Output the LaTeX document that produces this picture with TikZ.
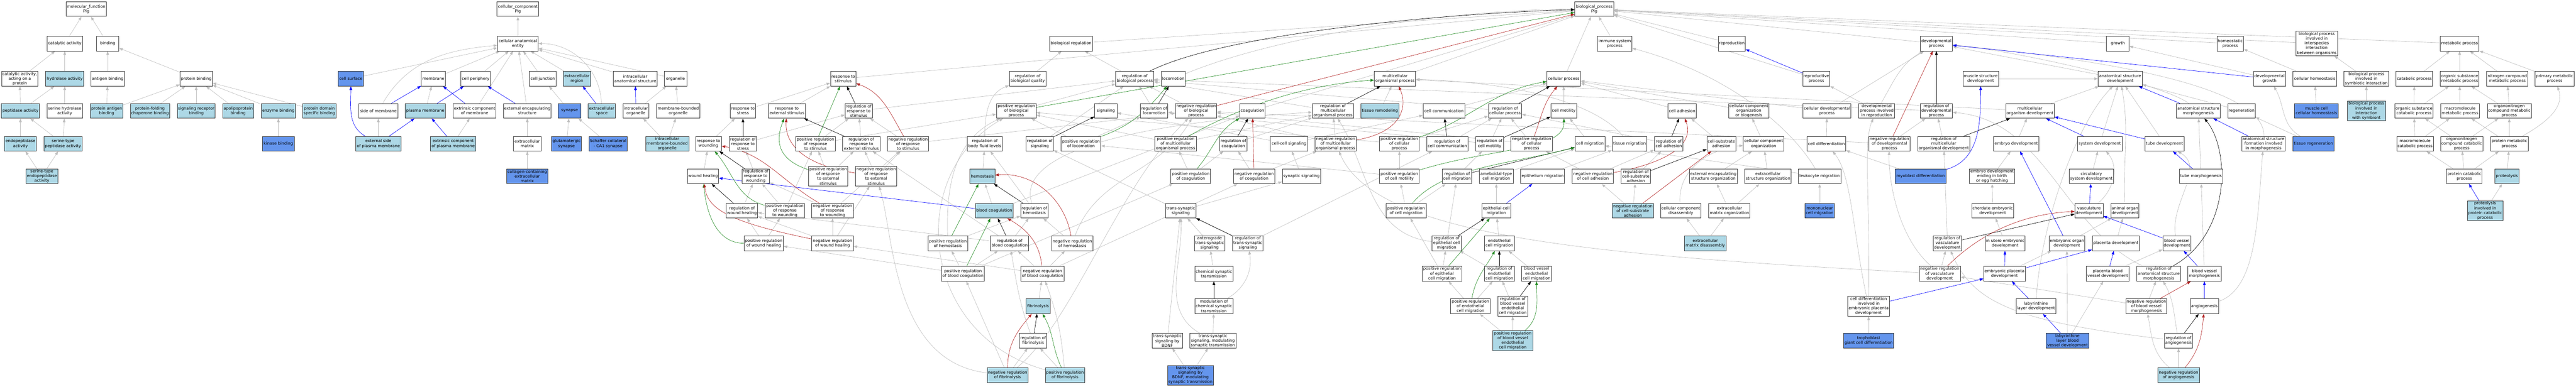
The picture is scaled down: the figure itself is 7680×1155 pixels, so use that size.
\documentclass[tikz,border=0pt]{standalone}
\usepackage{fontspec}
\setmainfont{DejaVu Sans}
\usetikzlibrary{arrows.meta,backgrounds}
\definecolor{lbc}{HTML}{ADD8E6}
\definecolor{cbc}{HTML}{6495ED}
\definecolor{cGrey}{RGB}{190,190,190}
\definecolor{cBlue}{RGB}{0,0,255}
\definecolor{cGreen}{RGB}{34,139,34}
\definecolor{cRed}{RGB}{178,34,34}
\definecolor{cBorder}{RGB}{55,55,55}
\newcommand\GOn[6]{\node[gobox,#5,minimum width=#4pt] (#1) at (#2,-#3) {#6};}
\begin{document}
\begin{tikzpicture}[x=1pt,y=1pt,
 gobox/.style={draw=cBorder,line width=1.3pt,inner xsep=2pt,inner ysep=1pt,align=center,minimum height=44pt,font=\fontsize{12}{14}\selectfont,text=black},
 wt/.style={fill=white}, lbx/.style={fill=lbc}, cbx/.style={fill=cbc},
 hf/.style={minimum height=59pt}, hv/.style={minimum height=73pt},
 ebase/.style={line width=1pt,-{Triangle[length=11pt,width=8pt]}},
 isa/.style={ebase,draw=cGrey},
 partof/.style={ebase,draw=cBlue},
 regl/.style={ebase,draw=black},
 posr/.style={ebase,draw=cGreen},
 negr/.style={ebase,draw=cRed}]
\useasboundingbox (0,0) rectangle (7680,-1155);
% ---------------- molecular function
\GOn{mf}{257}{27}{121}{wt}{molecular\_function\\Plg}
\GOn{cat}{193}{130}{106}{wt}{catalytic activity}
\GOn{bind}{321}{130}{67}{wt}{binding}
\GOn{catp}{59}{235}{109}{wt}{catalytic activity,\\acting on a\\protein}
\GOn{hyd}{193}{235}{113}{lbx}{hydrolase activity}
\GOn{agb}{321}{235}{99}{wt}{antigen binding}
\GOn{pb}{585}{235}{96}{wt}{protein binding}
\GOn{pep}{61}{331}{114}{lbx}{peptidase activity}
\GOn{shyd}{193}{331}{106}{wt}{serine hydrolase\\activity}
\GOn{pagb}{318}{331}{97}{lbx}{protein antigen\\binding}
\GOn{pfcb}{447}{331}{117}{lbx}{protein-folding\\chaperone binding}
\GOn{srb}{585}{331}{112}{lbx}{signaling receptor\\binding}
\GOn{apob}{710}{331}{93}{lbx}{apolipoprotein\\binding}
\GOn{enzb}{830}{331}{101}{lbx}{enzyme binding}
\GOn{pdsb}{952}{331}{99}{lbx}{protein domain\\specific binding}
\GOn{endo}{61}{429}{95}{lbx}{endopeptidase\\activity}
\GOn{stpa}{188}{429}{113}{lbx}{serine-type\\peptidase activity}
\GOn{kinb}{830}{429}{95}{cbx}{kinase binding}
\GOn{ste}{125}{526}{95}{lbx}{serine-type\\endopeptidase\\activity}
% ---------------- cellular component
\GOn{cc}{1544}{27}{124}{wt}{cellular\_component\\Plg}
\GOn{cae}{1544}{130}{121}{wt}{cellular anatomical\\entity}
\GOn{csurf}{1046}{235}{74}{cbx}{cell surface}
\GOn{mem}{1292}{235}{72}{wt}{membrane}
\GOn{cper}{1418}{235}{87}{wt}{cell periphery}
\GOn{cjun}{1618}{235}{79}{wt}{cell junction}
\GOn{ecr}{1720}{235}{81}{lbx}{extracellular\\region}
\GOn{ias}{1894}{235}{131}{wt}{intracellular\\anatomical structure}
\GOn{org}{2014}{235}{67}{wt}{organelle}
\GOn{som}{1128}{331}{116}{wt}{side of membrane}
\GOn{pm}{1268}{331}{119}{lbx}{plasma membrane}
\GOn{ecm}{1415}{331}{128}{wt}{extrinsic component\\of membrane}
\GOn{ees}{1572}{331}{142}{wt}{external encapsulating\\structure}
\GOn{syn}{1698}{331}{67}{cbx}{synapse}
\GOn{ecs}{1794}{331}{81}{lbx}{extracellular\\space}
\GOn{io}{1896}{331}{77}{wt}{intracellular\\organelle}
\GOn{mbo}{2022}{331}{128}{wt}{membrane-bounded\\organelle}
\GOn{espm}{1128}{429}{136}{lbx}{external side\\of plasma membrane}
\GOn{ecpm}{1351}{429}{136}{lbx}{extrinsic component\\of plasma membrane}
\GOn{exm}{1572}{429}{82}{wt}{extracellular\\matrix}
\GOn{gsyn}{1689}{429}{89}{cbx}{glutamatergic\\synapse}
\GOn{scsyn}{1813}{429}{114}{cbx}{Schaffer collateral\\- CA1 synapse}
\GOn{imbo}{1989}{429}{129}{lbx}{intracellular\\membrane-bounded\\organelle}
\GOn{cecm}{1572}{526}{124}{cbx}{collagen-containing\\extracellular\\matrix}
% ---------------- biological process R0-R1
\GOn{bp}{4753}{27}{116}{wt}{biological\_process\\Plg}
\GOn{breg}{3193}{130}{128}{wt}{biological regulation}
\GOn{isp}{4814}{130}{103}{wt}{immune system\\process}
\GOn{repro}{5163}{130}{81}{wt}{reproduction}
\GOn{dev}{5773}{130}{96}{wt}{developmental\\process}
\GOn{growth}{6314}{130}{67}{wt}{growth}
\GOn{homeo}{6649}{130}{79}{wt}{homeostatic\\process}
\GOn{bpii}{6907}{130}{124}{wt,hv}{biological process\\involved in\\interspecies\\interaction\\between organisms}
\GOn{metab}{7333}{130}{116}{wt}{metabolic process}
% R2
\GOn{rstim}{2514}{235}{76}{wt}{response to\\stimulus}
\GOn{rbq}{3064}{235}{110}{wt}{regulation of\\biological quality}
\GOn{rbp}{3383}{235}{113}{wt}{regulation of\\biological process}
\GOn{loco}{3498}{235}{72}{wt}{locomotion}
\GOn{mop}{4159}{235}{123}{wt}{multicellular\\organismal process}
\GOn{cellp}{4662}{235}{100}{wt}{cellular process}
\GOn{reprop}{5415}{235}{81}{wt}{reproductive\\process}
\GOn{msd}{5905}{235}{106}{wt}{muscle structure\\development}
\GOn{asd}{6321}{235}{131}{wt}{anatomical structure\\development}
\GOn{devg}{6766}{235}{95}{wt}{developmental\\growth}
\GOn{chom}{6901}{235}{130}{wt}{cellular homeostasis}
\GOn{bpsym}{7055}{235}{133}{wt}{biological process\\involved in\\symbiotic interaction}
\GOn{catab}{7198}{235}{109}{wt}{catabolic process}
\GOn{osmp}{7333}{235}{116}{wt}{organic substance\\metabolic process}
\GOn{ncmp}{7475}{235}{122}{wt}{nitrogen compound\\metabolic process}
\GOn{pmp}{7616}{235}{116}{wt}{primary metabolic\\process}
% R3
\GOn{rstress}{2215}{331}{76}{wt}{response to\\stress}
\GOn{rext}{2346}{331}{111}{wt}{response to\\external stimulus}
\GOn{rrstim}{2560}{331}{81}{wt}{regulation of\\response to\\stimulus}
\GOn{prbp}{3030}{331}{118}{wt}{positive regulation\\of biological\\process}
\GOn{sig}{3297}{331}{67}{wt}{signaling}
\GOn{rloco}{3441}{331}{81}{wt}{regulation of\\locomotion}
\GOn{nrbp}{3566}{331}{123}{wt}{negative regulation\\of biological\\process}
\GOn{coag}{3734}{331}{76}{wt}{coagulation}
\GOn{rmop}{3974}{331}{123}{wt}{regulation of\\multicellular\\organismal process}
\GOn{tremod}{4114}{331}{113}{lbx}{tissue remodeling}
\GOn{ccom}{4305}{331}{124}{wt}{cell communication}
\GOn{rcp}{4487}{331}{99}{wt}{regulation of\\cellular process}
\GOn{cmot}{4662}{331}{77}{wt}{cell motility}
\GOn{cadh}{5015}{331}{84}{wt}{cell adhesion}
\GOn{ccob}{5214}{331}{120}{wt}{cellular component\\organization\\or biogenesis}
\GOn{cdp}{5447}{331}{143}{wt}{cellular developmental\\process}
\GOn{dpir}{5595}{331}{108}{wt}{developmental\\process involved\\in reproduction}
\GOn{rdp}{5773}{331}{96}{wt}{regulation of\\developmental\\process}
\GOn{mod}{6052}{331}{145}{wt}{multicellular\\organism development}
\GOn{asm}{6554}{331}{130}{wt}{anatomical structure\\morphogenesis}
\GOn{regen}{6683}{331}{82}{wt}{regeneration}
\GOn{mcch}{6906}{331}{131}{cbx}{muscle cell\\cellular homeostasis}
\GOn{bpis}{7055}{331}{113}{lbx,hf}{biological process\\involved in\\interaction\\with symbiont}
\GOn{oscp}{7197}{331}{114}{wt}{organic substance\\catabolic process}
\GOn{mmp}{7334}{331}{115}{wt}{macromolecule\\metabolic process}
\GOn{oncmp}{7481}{331}{130}{wt}{organonitrogen\\compound metabolic\\process}
% R4
\GOn{rwound}{2112}{429}{77}{wt}{response to\\wounding}
\GOn{rrstress}{2215}{429}{82}{wt}{regulation of\\response to\\stress}
\GOn{prrs}{2431}{429}{118}{wt}{positive regulation\\of response\\to stimulus}
\GOn{rrext}{2568}{429}{111}{wt}{regulation of\\response to\\external stimulus}
\GOn{nrrs}{2707}{429}{123}{wt}{negative regulation\\of response\\to stimulus}
\GOn{rbfl}{2936}{429}{104}{wt}{regulation of\\body fluid levels}
\GOn{rsig}{3100}{429}{81}{wt}{regulation of\\signaling}
\GOn{prloco}{3223}{429}{118}{wt}{positive regulation\\of locomotion}
\GOn{prmop}{3505}{429}{123}{wt}{positive regulation\\of multicellular\\organismal process}
\GOn{rcoag}{3677}{429}{81}{wt}{regulation of\\coagulation}
\GOn{ccsig}{3843}{429}{111}{wt}{cell-cell signaling}
\GOn{nrmop}{3982}{429}{123}{wt}{negative regulation\\of multicellular\\organismal process}
\GOn{prcp}{4172}{429}{118}{wt}{positive regulation\\of cellular\\process}
\GOn{rccom}{4315}{429}{123}{wt}{regulation of\\cell communication}
\GOn{rcmot}{4441}{429}{82}{wt}{regulation of\\cell motility}
\GOn{nrcp}{4566}{429}{124}{wt}{negative regulation\\of cellular\\process}
\GOn{cmig}{4740}{429}{89}{wt}{cell migration}
\GOn{tmig}{4858}{429}{103}{wt}{tissue migration}
\GOn{rcadh}{4975}{429}{85}{wt}{regulation of\\cell adhesion}
\GOn{csadh}{5132}{429}{86}{wt}{cell-substrate\\adhesion}
\GOn{cco}{5258}{429}{121}{wt}{cellular component\\organization}
\GOn{cdiff}{5445}{429}{116}{wt}{cell differentiation}
\GOn{nrdp}{5633}{429}{124}{wt}{negative regulation\\of developmental\\process}
\GOn{rmod}{5795}{429}{155}{wt}{regulation of\\multicellular\\organismal development}
\GOn{embd}{6011}{429}{135}{wt}{embryo development}
\GOn{sysd}{6260}{429}{134}{wt}{system development}
\GOn{tubed}{6453}{429}{116}{wt}{tube development}
\GOn{asfm}{6748}{429}{130}{wt}{anatomical structure\\formation involved\\in morphogenesis}
\GOn{treg}{6897}{429}{122}{cbx}{tissue regeneration}
\GOn{mcp}{7200}{429}{109}{wt}{macromolecule\\catabolic process}
\GOn{onccp}{7339}{429}{126}{wt}{organonitrogen\\compound catabolic\\process}
\GOn{protmp}{7481}{429}{112}{wt}{protein metabolic\\process}
% R5
\GOn{wheal}{2096}{526}{93}{wt}{wound healing}
\GOn{rrw}{2253}{526}{82}{wt}{regulation of\\response to\\wounding}
\GOn{prrext}{2469}{526}{118}{wt,hf}{positive regulation\\of response\\to external\\stimulus}
\GOn{nrrext}{2612}{526}{122}{wt,hf}{negative regulation\\of response\\to external\\stimulus}
\GOn{hemo}{2929}{526}{74}{lbx}{hemostasis}
\GOn{pcoag}{3550}{526}{118}{wt}{positive regulation\\of coagulation}
\GOn{ncoag}{3739}{526}{122}{wt}{negative regulation\\of coagulation}
\GOn{ssig}{3880}{526}{114}{wt}{synaptic signaling}
\GOn{prcmot}{4172}{526}{118}{wt}{positive regulation\\of cell motility}
\GOn{rcmig}{4344}{526}{88}{wt}{regulation of\\cell migration}
\GOn{amig}{4461}{526}{101}{wt}{ameboidal-type\\cell migration}
\GOn{epmig}{4599}{526}{131}{wt}{epithelium migration}
\GOn{nrcadh}{4749}{526}{123}{wt}{negative regulation\\of cell adhesion}
\GOn{rcsadh}{4877}{526}{87}{wt}{regulation of\\cell-substrate\\adhesion}
\GOn{eeso}{5108}{526}{143}{wt}{external encapsulating\\structure organization}
\GOn{eso}{5271}{526}{138}{wt}{extracellular\\structure organization}
\GOn{lmig}{5425}{526}{127}{wt}{leukocyte migration}
\GOn{myod}{5726}{526}{151}{cbx}{myoblast differentiation}
\GOn{edeb}{5939}{526}{135}{wt}{embryo development\\ending in birth\\or egg hatching}
\GOn{csd}{6235}{526}{133}{wt}{circulatory\\system development}
\GOn{tubem}{6562}{526}{129}{wt}{tube morphogenesis}
\GOn{pcp}{7347}{526}{106}{wt}{protein catabolic\\process}
\GOn{prot}{7474}{526}{71}{lbx}{proteolysis}
% R6
\GOn{rwh}{2212}{629}{94}{wt}{regulation of\\wound healing}
\GOn{prrw}{2340}{629}{118}{wt}{positive regulation\\of response\\to wounding}
\GOn{nrrw}{2482}{629}{123}{wt}{negative regulation\\of response\\to wounding}
\GOn{bcoag}{2964}{629}{113}{lbx}{blood coagulation}
\GOn{rhemo}{3084}{629}{82}{wt}{regulation of\\hemostasis}
\GOn{tss}{3520}{629}{91}{wt}{trans-synaptic\\signaling}
\GOn{prcmig}{4192}{629}{119}{wt}{positive regulation\\of cell migration}
\GOn{ecmig}{4461}{629}{87}{wt}{epithelial cell\\migration}
\GOn{nrcsadh}{4868}{629}{123}{lbx}{negative regulation\\of cell-substrate\\adhesion}
\GOn{ccd}{5011}{629}{121}{wt}{cellular component\\disassembly}
\GOn{ecmo}{5156}{629}{123}{wt}{extracellular\\matrix organization}
\GOn{mncm}{5425}{629}{89}{cbx}{mononuclear\\cell migration}
\GOn{ced}{5941}{629}{125}{wt}{chordate embryonic\\development}
\GOn{vascd}{6228}{629}{84}{wt}{vasculature\\development}
\GOn{aod}{6335}{629}{84}{wt}{animal organ\\development}
\GOn{pip}{7409}{629}{106}{lbx,hf}{proteolysis\\involved in\\protein catabolic\\process}
% R7
\GOn{prwh}{2277}{726}{117}{wt}{positive regulation\\of wound healing}
\GOn{nrwh}{2482}{726}{123}{wt}{negative regulation\\of wound healing}
\GOn{prhemo}{2826}{726}{118}{wt}{positive regulation\\of hemostasis}
\GOn{rbc}{3010}{726}{114}{wt}{regulation of\\blood coagulation}
\GOn{nrhemo}{3197}{726}{122}{wt}{negative regulation\\of hemostasis}
\GOn{ats}{3606}{726}{91}{wt}{anterograde\\trans-synaptic\\signaling}
\GOn{rtss}{3720}{726}{91}{wt}{regulation of\\trans-synaptic\\signaling}
\GOn{recm}{4313}{726}{87}{wt}{regulation of\\epithelial cell\\migration}
\GOn{endm}{4470}{726}{89}{wt}{endothelial\\cell migration}
\GOn{ecmd}{5084}{726}{124}{lbx}{extracellular\\matrix disassembly}
\GOn{rvd}{5806}{726}{85}{wt}{regulation of\\vasculature\\development}
\GOn{iued}{5978}{726}{119}{wt}{in utero embryonic\\development}
\GOn{eod}{6162}{726}{106}{wt}{embryonic organ\\development}
\GOn{plad}{6308}{726}{141}{wt}{placenta development}
\GOn{bvd}{6490}{726}{84}{wt}{blood vessel\\development}
% R8
\GOn{prbc}{2871}{817}{128}{wt}{positive regulation\\of blood coagulation}
\GOn{nrbc}{3108}{817}{128}{wt}{negative regulation\\of blood coagulation}
\GOn{cst}{3619}{817}{114}{wt}{chemical synaptic\\transmission}
\GOn{precm}{4299}{817}{118}{wt}{positive regulation\\of epithelial\\cell migration}
\GOn{rendm}{4470}{817}{89}{wt}{regulation of\\endothelial\\cell migration}
\GOn{bvecm}{4581}{817}{88}{wt}{blood vessel\\endothelial\\cell migration}
\GOn{nrvd}{5783}{817}{123}{wt}{negative regulation\\of vasculature\\development}
\GOn{epd}{5976}{817}{124}{wt}{embryonic placenta\\development}
\GOn{pbvd}{6284}{817}{127}{wt}{placenta blood\\vessel development}
\GOn{rasm}{6436}{817}{131}{wt}{regulation of\\anatomical structure\\morphogenesis}
\GOn{bvm}{6572}{817}{99}{wt}{blood vessel\\morphogenesis}
% R9
\GOn{fibr}{3095}{914}{72}{lbx}{fibrinolysis}
\GOn{mcst}{3619}{914}{114}{wt}{modulation of\\chemical synaptic\\transmission}
\GOn{prendm}{4384}{914}{118}{wt}{positive regulation\\of endothelial\\cell migration}
\GOn{rbvecm}{4510}{914}{89}{wt,hf}{regulation of\\blood vessel\\endothelial\\cell migration}
\GOn{cdiep}{5571}{914}{124}{wt,hf}{cell differentiation\\involved in\\embryonic placenta\\development}
\GOn{lld}{6070}{914}{119}{wt}{labyrinthine\\layer development}
\GOn{nrbvm}{6399}{914}{122}{wt}{negative regulation\\of blood vessel\\morphogenesis}
\GOn{angio}{6572}{914}{84}{wt}{angiogenesis}
% R10
\GOn{rfibr}{3080}{1017}{81}{wt}{regulation of\\fibrinolysis}
\GOn{tssb}{3480}{1017}{91}{wt}{trans-synaptic\\signaling by\\BDNF}
\GOn{tssm}{3616}{1017}{138}{wt}{trans-synaptic\\signaling, modulating\\synaptic transmission}
\GOn{prbvecm}{4510}{1017}{119}{lbx,hf}{positive regulation\\of blood vessel\\endothelial\\cell migration}
\GOn{tgcd}{5571}{1017}{150}{cbx}{trophoblast\\giant cell differentiation}
\GOn{llbvd}{6164}{1017}{128}{cbx}{labyrinthine\\layer blood\\vessel development}
\GOn{rangio}{6495}{1017}{84}{wt}{regulation of\\angiogenesis}
% R11
\GOn{nrfibr}{3004}{1120}{122}{lbx}{negative regulation\\of fibrinolysis}
\GOn{prfibr}{3175}{1120}{117}{lbx}{positive regulation\\of fibrinolysis}
\GOn{tssbm}{3549}{1120}{137}{cbx,hf}{trans-synaptic\\signaling by\\BDNF, modulating\\synaptic transmission}
\GOn{nrangio}{6495}{1120}{124}{lbx}{negative regulation\\of angiogenesis}
% ================= edges
\begin{scope}[on background layer]
\fill[white] (0,0) rectangle (7680,-1155);
\foreach \a/\b in {cat/mf,bind/mf,catp/cat,hyd/cat,agb/bind,pb/bind,pep/catp,pep/hyd,shyd/hyd,pagb/agb,pagb/pb,pfcb/pb,srb/pb,apob/pb,enzb/pb,pdsb/pb,kinb/enzb,endo/pep,stpa/pep,stpa/shyd,ste/endo,ste/stpa,
 cae/cc,csurf/cae,mem/cae,cper/cae,cjun/cae,ecr/cae,ias/cae,org/cae,pm/mem,ecm/cae,ees/cae,syn/cjun,io/org,mbo/org,espm/som,ecpm/ecm,exm/ees,gsyn/syn,scsyn/syn,imbo/io,imbo/mbo,cecm/exm,
 rstim/bp,breg/bp,isp/bp,repro/bp,reprop/bp,dev/bp,growth/bp,homeo/bp,bpii/bp,metab/bp,cellp/bp,mop/bp,coag/bp,
 rstress/rstim,rext/rstim,rrstim/rbp,rwound/rstress,rrstress/rrstim,prrs/rrstim,prrs/prbp,rrext/rrstim,nrrs/rrstim,nrrs/nrbp,wheal/rwound,rrw/rrstress,prrext/prrs,prrext/rrext,nrrext/rrext,nrrext/nrrs,rwh/rrw,prrw/rrw,prrw/prrs,nrrw/rrw,nrrw/nrrs,prwh/rwh,prwh/prrw,nrwh/rwh,nrwh/nrrw,nrwh/nrrext,
 rbq/breg,hemo/rbfl,bcoag/hemo,bcoag/coag,rhemo/rbfl,prhemo/rhemo,rbc/rhemo,rbc/rwh,rbc/rrext,nrhemo/rhemo,prbc/prhemo,prbc/rbc,prbc/pcoag,prbc/prwh,nrbc/rbc,nrbc/nrhemo,nrbc/ncoag,nrbc/nrwh,fibr/nrbc,nrfibr/rfibr,nrfibr/prbc,prfibr/rfibr,
 rbp/breg,rloco/rbp,nrbp/rbp,prbp/rbp,rsig/rbp,prloco/rloco,prloco/prbp,prmop/prbp,prmop/rmop,rcoag/rmop,pcoag/rcoag,pcoag/prmop,ncoag/rcoag,ncoag/nrmop,ccsig/sig,ccsig/ccom,ssig/ccsig,tss/ssig,ats/tss,cst/ats,tssb/tss,tssm/mcst,tssbm/tssb,tssbm/tssm,rtss/rsig,rtss/rccom,
 rmop/rbp,tremod/mop,nrmop/rmop,nrmop/nrbp,prcp/rcp,prcp/prbp,ccom/cellp,rccom/rcp,rcp/rbp,rcmot/rcp,rcmot/rloco,prcmot/prcp,prcmot/prloco,rcmig/rcmot,amig/cmig,prcmig/prcmot,prcmig/rcmig,ecmig/amig,recm/rcmig,endm/ecmig,precm/recm,precm/prcmig,rendm/recm,prendm/precm,prendm/rendm,rbvecm/rendm,prbvecm/prendm,prbvecm/rbvecm,bvecm/endm,
 cmot/cellp,cadh/cellp,nrcp/rcp,nrcp/nrbp,cmig/cmot,rcadh/rcp,csadh/cadh,epmig/tmig,nrcadh/rcadh,nrcadh/nrcp,rcsadh/rcadh,nrcsadh/nrcadh,nrcsadh/rcsadh,eeso/cco,ecmo/eeso,ecmo/eso,ecmd/ccd,ecmd/ecmo,lmig/cmig,
 ccob/cellp,cdp/cellp,cdp/dev,dpir/reprop,cco/ccob,cdiff/cdp,nrdp/rdp,nrdp/nrbp,rdp/rbp,rmod/rdp,eso/cco,myod/cdiff,mncm/lmig,tgcd/cdiep,
 msd/asd,mod/asd,mod/mop,asd/dev,embd/mod,sysd/asd,tubed/asd,edeb/embd,csd/sysd,ced/edeb,eod/aod,plad/aod,iued/ced,epd/eod,pbvd/bvd,rvd/rmod,nrvd/rvd,nrbvm/rasm,nrbvm/nrvd,llbvd/pbvd,llbvd/eod,
 chom/homeo,bpsym/bpii,treg/regen,mcch/chom,bpis/bpsym,tubem/asm,bvm/tubem,nrangio/rangio,devg/growth,regen/asd,
 catab/metab,osmp/metab,ncmp/metab,pmp/metab,oscp/catab,oscp/osmp,mmp/osmp,oncmp/osmp,oncmp/ncmp,mcp/oscp,mcp/mmp,onccp/oscp,onccp/oncmp,protmp/mmp,protmp/oncmp,pcp/mcp,pcp/onccp,pcp/protmp,prot/protmp,pip/prot}
 {\draw[isa] (\a) -- (\b);}
% grey curves
\draw[isa] (som) to[out=60,in=185] (cae);
\draw[isa] (ecs) to[out=92,in=0] (cae);
\draw[isa] (rbfl) to[out=90,in=200] (rbq);
\draw[isa] (prhemo) to[out=92,in=205] (prbp);
\draw[isa] (prfibr) .. controls (2740,-1000) and (2700,-520) .. (prbp);
\draw[isa] (nrhemo) to[out=70,in=-120] (nrbp);
\draw[isa] (nrfibr) .. controls (3200,-960) and (3330,-560) .. (nrbp);
\draw[isa] (nrfibr) .. controls (2660,-1080) and (2665,-700) .. (nrrext);
\draw[isa] (rfibr) to[out=110,in=-80] (rbc);
\draw[isa] (prfibr) to[out=95,in=-70] (nrbc);
\draw[isa] (rhemo) .. controls (3040,-500) and (3200,-380) .. (rmop);
\draw[isa] (recm) .. controls (4080,-700) and (4080,-500) .. (rmop);
\draw[isa] (tmig) .. controls (4750,-300) and (4500,-245) .. (mop);
\draw[isa] (lmig) .. controls (5340,-380) and (5150,-220) .. (isp);
\draw[isa] (ccd) to[out=95,in=185] (cco);
\draw[isa] (bvd) to[out=100,in=-30] (tubed);
\draw[isa] (angio) .. controls (6730,-860) and (6730,-650) .. (asfm);
\draw[isa] (treg) to[out=150,in=-60] (devg);
\draw[isa] (tssm) to[out=150,in=-88] (tss);
\draw[isa] (mcst) to[out=30,in=-80] (rtss);
\draw[isa] (lld) .. controls (6080,-700) and (6180,-380) .. (asd);
\draw[isa] (cdiep) .. controls (5525,-700) and (5520,-520) .. (cdiff);
\draw[isa] (cdiep) .. controls (5575,-600) and (5555,-420) .. (dpir);
\draw[isa] (nrvd) .. controls (5650,-700) and (5630,-520) .. (nrdp);
\draw[isa] (nrvd) .. controls (4700,-760) and (4100,-700) .. (nrmop);
\draw[isa] (dpir) to[out=60,in=-150] (dev);
\draw[isa] (rangio) .. controls (6000,-960) and (5880,-900) .. (rvd);
\draw[isa] (rasm) .. controls (6150,-680) and (6100,-360) .. (rdp);
\draw[isa] (nrangio) to[out=140,in=-80] (nrbvm);
\draw[isa] (rangio) to[out=100,in=-60] (rasm);
\draw[isa] (aod) to[out=92,in=-80] (asd);
\draw[isa] (vascd) to[out=40,in=-50] (sysd);
\draw[isa] (asm) .. controls (6450,-250) and (6000,-150) .. (dev);
\draw[isa] (asfm) .. controls (6755,-300) and (6500,-200) .. (dev);
\draw[isa] (loco) .. controls (3800,-110) and (4300,-30) .. (bp);
\draw[isa] (protmp) to[out=30,in=-70] (pmp);
% part_of (blue)
\foreach \a/\b in {som/mem,pm/cper,ecm/mem,ees/cper,ecs/ecr,io/ias,espm/pm,ecpm/pm,
 bcoag/wheal,ecmig/epmig,reprop/repro,cdiep/epd,sysd/mod,tubed/mod,vascd/csd,eod/embd,bvd/vascd,epd/iued,epd/plad,pbvd/plad,lld/epd,llbvd/lld,asm/asd,devg/dev,asfm/asm,tubem/tubed,bvm/bvd,angio/bvm,pip/pcp}
 {\draw[partof] (\a) -- (\b);}
\draw[partof] (espm) to[out=150,in=-90] (csurf);
\draw[partof] (myod) to[out=15,in=-90] (msd);
% regulates (black)
\foreach \a/\b in {rrstim/rstim,rrstress/rstress,rrext/rext,rrw/rwound,rwh/wheal,rhemo/hemo,rbc/bcoag,rfibr/fibr,rloco/loco,rsig/sig,rcoag/coag,rtss/tss,mcst/cst,rmop/mop,rcp/cellp,rccom/ccom,rcmot/cmot,rcmig/cmig,recm/ecmig,rendm/endm,rbvecm/bvecm,rcadh/cadh,rcsadh/csadh,rdp/dev,rmod/mod,rvd/vascd,rangio/angio}
 {\draw[regl] (\a) -- (\b);}
\draw[regl] (rbp) .. controls (3650,-100) and (4300,-40) .. (bp);
\draw[regl] (rasm) .. controls (6650,-700) and (6650,-450) .. (asm);
% positively regulates (green)
\foreach \a/\b in {prrs/rstim,prhemo/hemo,prbc/bcoag,prbp/bp,precm/ecmig}
 {\draw[posr] (\a) -- (\b);}
\draw[posr] (prrext) .. controls (2300,-470) and (2320,-400) .. (rext);
\draw[posr] (prrw) to[out=165,in=-50] (rwound);
\draw[posr] (prwh) to[out=180,in=-85] (wheal);
\draw[posr] (prfibr) to[out=115,in=-60] (fibr);
\draw[posr] (prloco) to[out=20,in=-130] (loco);
\draw[posr] (prmop) .. controls (3650,-345) and (3850,-255) .. (mop);
\draw[posr] (pcoag) to[out=50,in=-150] (coag);
\draw[posr] (prcp) .. controls (4380,-360) and (4450,-270) .. (cellp);
\draw[posr] (prcmot) .. controls (4450,-440) and (4665,-450) .. (cmot);
\draw[posr] (prcmig) .. controls (4300,-500) and (4500,-490) .. (cmig);
\draw[posr] (prendm) to[out=80,in=-120] (endm);
\draw[posr] (prbvecm) to[out=40,in=-90] (bvecm);
% negatively regulates (red)
\foreach \a/\b in {nrbp/bp,ncoag/coag,nrcsadh/csadh,nrdp/dev,nrbvm/bvm}
 {\draw[negr] (\a) -- (\b);}
\draw[negr] (nrrs) to[out=120,in=-20] (rstim);
\draw[negr] (nrrext) .. controls (2380,-490) and (2340,-420) .. (rext);
\draw[negr] (nrrw) to[out=150,in=-10] (rwound);
\draw[negr] (nrwh) .. controls (2160,-660) and (2110,-620) .. (wheal);
\draw[negr] (nrhemo) to[out=100,in=5] (hemo);
\draw[negr] (nrbc) to[out=95,in=-30] (bcoag);
\draw[negr] (nrfibr) to[out=90,in=-130] (fibr);
\draw[negr] (nrmop) .. controls (4200,-390) and (4190,-300) .. (mop);
\draw[negr] (nrcp) to[out=70,in=-130] (cellp);
\draw[negr] (nrcadh) to[out=10,in=-70] (cadh);
\draw[negr] (nrvd) .. controls (5880,-720) and (6000,-640) .. (vascd);
\draw[negr] (nrangio) to[out=50,in=-95] (angio);
\end{scope}
\end{tikzpicture}
\end{document}
